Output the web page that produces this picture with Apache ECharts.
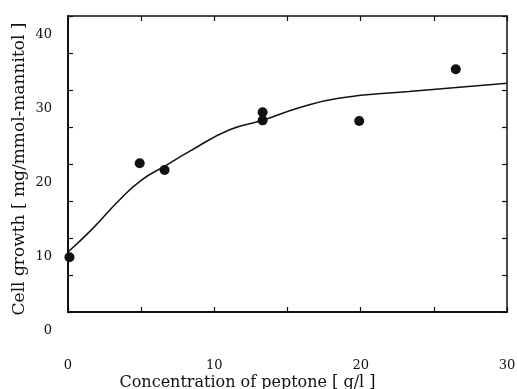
<!DOCTYPE html>
<html>
<head>
<meta charset="utf-8">
<script src="https://cdn.jsdelivr.net/npm/echarts@6/dist/echarts.min.js"></script>
<style>
  html, body { margin: 0; padding: 0; background: #fff; }
  #chart { width: 517px; height: 389px; }
</style>
</head>
<body>
<div id="chart"></div>
<script>
// measured points
const peptone = [0.1, 4.9, 6.6, 13.3, 13.3, 19.9, 26.5];
const growth = [7.4, 20.1, 19.2, 27.0, 25.9, 25.8, 32.8];

// fitted curve
const curveX = [0, 1.7, 3.5, 5, 6.7, 8.3, 11, 13.3, 15.8, 18.5, 23.3, 30];
const curveY = [8.1, 11.3, 15.1, 17.8, 19.8, 21.7, 24.6, 25.9, 27.6, 28.9, 29.8, 30.9];

const xLabels = [0, 10, 20, 30];
const yLabels = [0, 10, 20, 30, 40];

const font = 'DejaVu Serif';
const ink = '#111';

let chart = echarts.init(document.getElementById('chart'));

const tickStyle = { show: true, inside: true, length: 5, lineStyle: { color: ink, width: 1.2 } };

chart.setOption({
  animation: false,
  grid: { left: 68, right: 10, top: 16, bottom: 77, outerBoundsMode: 'none' },
  xAxis: [
    {
      type: 'value', min: 0, max: 30, interval: 5,
      name: 'Concentration of peptone [ g/l ]',
      nameLocation: 'middle', nameGap: 63, nameMoveOverlap: false,
      nameTextStyle: { fontFamily: font, fontSize: 16, color: ink, padding: [0, 80, 0, 0] },
      axisLine: { onZero: false, lineStyle: { color: ink, width: 2 } },
      axisTick: tickStyle,
      splitLine: { show: false },
      axisLabel: {
        fontFamily: font, fontSize: 13, color: ink, margin: 47,
        formatter: v => xLabels.includes(v) ? String(v) : ''
      }
    },
    {
      type: 'value', min: 0, max: 30, interval: 5, position: 'top',
      axisLine: { show: true, onZero: false, lineStyle: { color: ink, width: 1.5 } },
      axisTick: tickStyle, axisLabel: { show: false }, splitLine: { show: false }
    }
  ],
  yAxis: [
    {
      type: 'value', min: 0, max: 40, interval: 5,
      name: 'Cell growth [ mg/mmol-mannitol ]',
      nameLocation: 'middle', nameGap: 40, nameMoveOverlap: false,
      nameTextStyle: { fontFamily: font, fontSize: 17, color: ink, padding: [0, 10, 0, 0] },
      axisLine: { show: true, onZero: false, lineStyle: { color: ink, width: 2 } },
      axisTick: tickStyle,
      splitLine: { show: false },
      axisLabel: {
        fontFamily: font, fontSize: 13, color: ink, margin: 16,
        lineHeight: 37,
        formatter: v => yLabels.includes(v) ? '\n' + v : ''
      }
    },
    {
      type: 'value', min: 0, max: 40, interval: 5, position: 'right',
      axisLine: { show: true, onZero: false, lineStyle: { color: ink, width: 1.5 } },
      axisTick: tickStyle, axisLabel: { show: false }, splitLine: { show: false }
    }
  ],
  series: [
    {
      type: 'line',
      data: curveX.map((x, i) => [x, curveY[i]]),
      smooth: true,
      showSymbol: false,
      lineStyle: { color: ink, width: 1.5 }
    },
    {
      type: 'scatter',
      data: peptone.map((x, i) => [x, growth[i]]),
      symbol: 'circle',
      symbolSize: 10,
      itemStyle: { color: ink, opacity: 1 }
    }
  ]
});
</script>
</body>
</html>
